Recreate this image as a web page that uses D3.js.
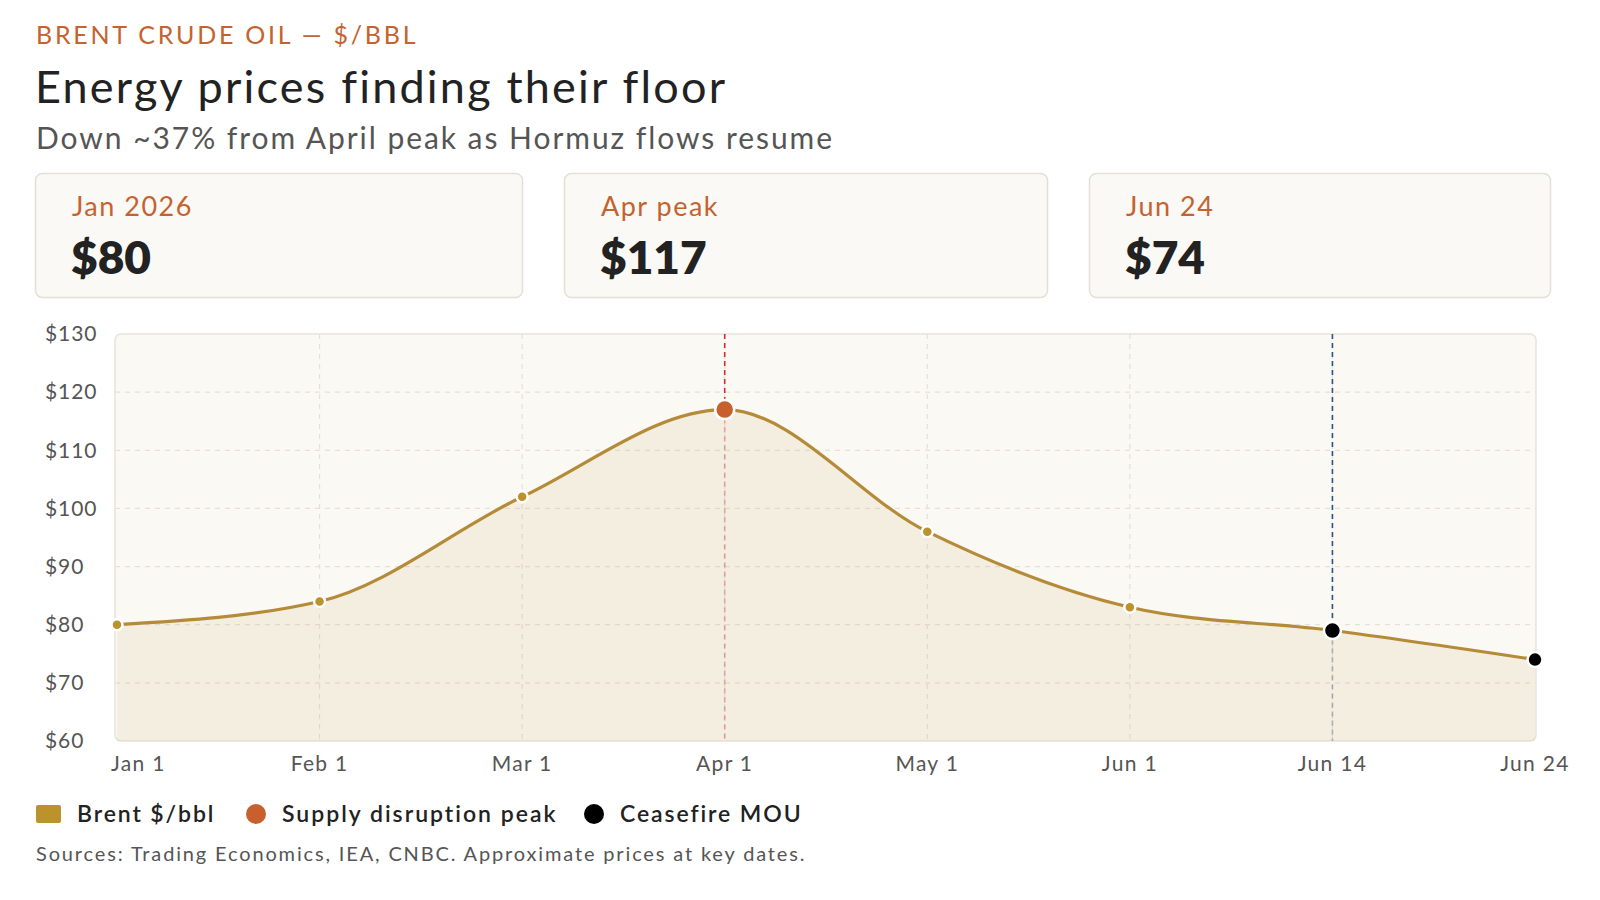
<!DOCTYPE html>
<html>
<head>
<meta charset="utf-8">
<script src="https://cdn.jsdelivr.net/npm/d3@7"></script>
<style>
  html, body { margin: 0; padding: 0; background: #ffffff; }
  svg { display: block; font-family: Lato, "Noto Sans", sans-serif; }
</style>
</head>
<body>
<svg id="chart" width="1600" height="900"></svg>
<script>
// ---- data ----
const categories = ["Jan 1", "Feb 1", "Mar 1", "Apr 1", "May 1", "Jun 1", "Jun 14", "Jun 24"];
const prices = [80, 84, 102, 117, 96, 83, 79, 74];
const yTicks = [60, 70, 80, 90, 100, 110, 120, 130];
const peakDates = ["Apr 1"];
const ceasefireDates = ["Jun 14", "Jun 24"];
const cardLabels = ["Jan 2026", "Apr peak", "Jun 24"];
const cardValues = ["$80", "$117", "$74"];
const legendLabels = ["Brent $/bbl", "Supply disruption peak", "Ceasefire MOU"];
const overline = "BRENT CRUDE OIL — $/BBL";
const title = "Energy prices finding their floor";
const subtitle = "Down ~37% from April peak as Hormuz flows resume";
const sourceNote = "Sources: Trading Economics, IEA, CNBC. Approximate prices at key dates.";

// ---- style ----
const C = {
  accent: "#c4632f", ink: "#222222", muted: "#555555",
  gold: "#bc922a", goldLine: "#b58a38", peak: "#c8602e", cease: "#000000",
  red: "#d42a3a", blue: "#2a5585",
  panel: "#faf9f4", panelStroke: "#e7e3da", grid: "#e5e1d7",
  card: "#faf9f5", cardStroke: "#e4e0d6"
};

const svg = d3.select("#chart");

// ---- header ----
svg.append("text").attr("x", 36).attr("y", 44).attr("fill", C.accent)
  .attr("font-size", 25).attr("letter-spacing", 2.75).text(overline);
svg.append("text").attr("x", 35).attr("y", 103).attr("fill", C.ink)
  .attr("font-size", 45).attr("letter-spacing", 2.2).text(title);
svg.append("text").attr("x", 36).attr("y", 149).attr("fill", C.muted)
  .attr("font-size", 30).attr("letter-spacing", 1.95).text(subtitle);

// ---- cards ----
const cardBoxes = [
  {x: 35, w: 487}, {x: 564, w: 483}, {x: 1089, w: 461}
];
const cards = svg.append("g").selectAll("g").data(cardLabels).join("g")
  .attr("transform", (d, i) => `translate(${cardBoxes[i].x},173)`);
cards.append("rect").attr("x", 0.5).attr("y", 0.5)
  .attr("width", (d, i) => cardBoxes[i].w).attr("height", 124)
  .attr("rx", 7).attr("fill", C.card).attr("stroke", C.cardStroke).attr("stroke-width", 1.5);
cards.append("text").attr("x", 37).attr("y", 43).attr("fill", C.accent)
  .attr("font-size", 27).attr("letter-spacing", 1.5).text(d => d);
cards.append("text").attr("x", 36).attr("y", 101).attr("fill", C.ink)
  .attr("font-size", 46).attr("font-weight", 800).text((d, i) => cardValues[i]);

// ---- chart ----
const plot = {left: 115, right: 1536, top: 334, bottom: 741};
const x = d3.scalePoint().domain(categories).range([plot.left + 2, plot.right - 1]);
const y = d3.scaleLinear().domain([60, 130]).range([plot.bottom, plot.top]);
const data = categories.map((c, i) => ({date: c, price: prices[i]}));

svg.append("rect").attr("x", plot.left).attr("y", plot.top)
  .attr("width", plot.right - plot.left).attr("height", plot.bottom - plot.top)
  .attr("rx", 6).attr("fill", C.panel).attr("stroke", C.panelStroke).attr("stroke-width", 1.5);

// grid
const grid = svg.append("g");
grid.selectAll("line.h").data(yTicks.filter(t => t > 60 && t < 130)).join("line")
  .attr("class", "h")
  .attr("x1", plot.left).attr("x2", plot.right)
  .attr("y1", d => y(d)).attr("y2", d => y(d))
  .attr("stroke", C.grid).attr("stroke-dasharray", "5,5").attr("stroke-width", 1.2);
grid.selectAll("line.v").data(categories.slice(1, -1)).join("line")
  .attr("class", "v")
  .attr("x1", d => x(d)).attr("x2", d => x(d))
  .attr("y1", plot.top).attr("y2", plot.bottom)
  .attr("stroke", C.grid).attr("stroke-dasharray", "5,5").attr("stroke-width", 1.2);

// event lines
const events = [
  {date: peakDates[0], color: C.red},
  {date: ceasefireDates[0], color: C.blue}
];
const priceAt = d => prices[categories.indexOf(d)];
events.forEach(ev => {
  svg.append("line").attr("x1", x(ev.date)).attr("x2", x(ev.date))
    .attr("y1", plot.top).attr("y2", y(priceAt(ev.date)))
    .attr("stroke", ev.color).attr("stroke-width", 1.6).attr("stroke-dasharray", "5,4");
  svg.append("line").attr("x1", x(ev.date)).attr("x2", x(ev.date))
    .attr("y1", y(priceAt(ev.date))).attr("y2", plot.bottom)
    .attr("stroke", ev.color).attr("stroke-opacity", 0.4).attr("stroke-width", 1.6).attr("stroke-dasharray", "5,4");
});

// area + line
const area = d3.area().curve(d3.curveMonotoneX)
  .x(d => x(d.date)).y0(plot.bottom).y1(d => y(d.price));
const line = d3.line().curve(d3.curveMonotoneX)
  .x(d => x(d.date)).y(d => y(d.price));
svg.append("path").datum(data).attr("d", area)
  .attr("fill", C.gold).attr("fill-opacity", 0.1);
svg.append("path").datum(data).attr("d", line)
  .attr("fill", "none").attr("stroke", C.goldLine).attr("stroke-width", 3.2);

// points
const ptR = d => peakDates.includes(d.date) ? 9.5 : (d.date === ceasefireDates[0] ? 8.5 : (ceasefireDates.includes(d.date) ? 7.5 : 5.5));
const ptFill = d => peakDates.includes(d.date) ? C.peak : (ceasefireDates.includes(d.date) ? C.cease : C.gold);
svg.append("g").selectAll("circle").data(data).join("circle")
  .attr("cx", d => x(d.date)).attr("cy", d => y(d.price))
  .attr("r", ptR).attr("fill", ptFill).attr("stroke", "#ffffff").attr("stroke-width", 2.5);

// y axis labels
svg.append("g").selectAll("text").data(yTicks).join("text")
  .attr("x", 45).attr("y", d => y(d)).attr("dy", "0.35em")
  .attr("fill", C.muted).attr("font-size", 21).attr("letter-spacing", 0.9)
  .text(d => "$" + d);

// x axis labels
svg.append("g").selectAll("text").data(categories).join("text")
  .attr("x", (d, i) => i === 0 ? x(d) - 6 : x(d))
  .attr("y", 764).attr("dy", "0.35em")
  .attr("text-anchor", (d, i) => i === 0 ? "start" : "middle")
  .attr("fill", C.muted).attr("font-size", 21).attr("letter-spacing", 1.3)
  .text(d => d);

// legend
const lg = svg.append("g").attr("transform", "translate(0,814)");
lg.append("rect").attr("x", 36).attr("y", -9).attr("width", 25).attr("height", 18).attr("rx", 2).attr("fill", C.gold);
lg.append("text").attr("x", 77).attr("y", 0).attr("dy", "0.35em").attr("font-size", 23).attr("font-weight", 600).attr("letter-spacing", 1.9).attr("fill", C.ink).text(legendLabels[0]);
lg.append("circle").attr("cx", 256).attr("cy", 0).attr("r", 10).attr("fill", C.peak);
lg.append("text").attr("x", 282).attr("y", 0).attr("dy", "0.35em").attr("font-size", 23).attr("font-weight", 600).attr("letter-spacing", 2.0).attr("fill", C.ink).text(legendLabels[1]);
lg.append("circle").attr("cx", 594).attr("cy", 0).attr("r", 10).attr("fill", C.cease);
lg.append("text").attr("x", 620).attr("y", 0).attr("dy", "0.35em").attr("font-size", 23).attr("font-weight", 600).attr("letter-spacing", 1.9).attr("fill", C.ink).text(legendLabels[2]);

svg.append("text").attr("x", 36).attr("y", 854).attr("dy", "0.35em")
  .attr("font-size", 20).attr("letter-spacing", 1.85).attr("fill", C.muted).text(sourceNote);
</script>
</body>
</html>
